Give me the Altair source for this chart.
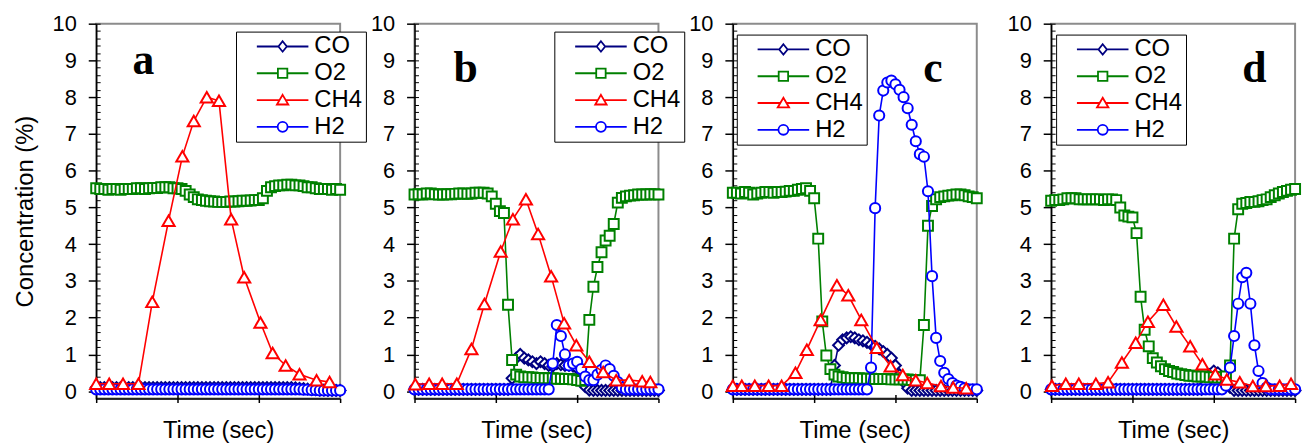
import altair as alt
import pandas as pd

FONT = "Liberation Sans"
SERIES = ["CO", "O2", "CH4", "H2"]
SERIES_LBL = ["CO ", "O2 ", "CH4 ", "H2 "]
COLORS = ["#000080", "#008000", "#FF0000", "#0000FF"]
SHAPES = ["diamond", "square", "triangle-up", "circle"]
SIZES = [120, 100, 150, 105]
# legend samples: a line with the series marker in the middle (unit = half the symbol size)
LEGEND_SYMBOLS = [
    "M-5.2,0L-0.85,0M0.85,0L5.2,0M0,-1.05L0.85,0L0,1.05L-0.85,0Z",
    "M-5.2,0L-0.95,0M0.95,0L5.2,0M-0.95,-0.95L0.95,-0.95L0.95,0.95L-0.95,0.95Z",
    "M-5.2,0L-0.62,0M0.62,0L5.2,0M0,-1.05L1.15,0.9L-1.15,0.9Z",
    "M-5.2,0L-1,0M1,0L5.2,0M-1,0A1,1,0,1,1,1,0A1,1,0,1,1,-1,0Z",
]
DRAW_ORDER = ["CO", "O2", "H2", "CH4"]

T_DENSE = list(range(0, 301, 5))

# ---------------- panel a ----------------
co_a = [0.10, 0.10, 0.10, 0.10, 0.10, 0.10, 0.10, 0.10, 0.10, 0.10,
        0.10, 0.10, 0.10, 0.10, 0.10, 0.10, 0.10, 0.10, 0.10, 0.10,
        0.10, 0.10, 0.10, 0.10, 0.10, 0.10, 0.10, 0.10, 0.10, 0.10,
        0.10, 0.10, 0.10, 0.10, 0.10, 0.10, 0.10, 0.10, 0.10, 0.10,
        0.10, 0.10, 0.10, 0.10, 0.10, 0.10, 0.10, 0.10, 0.10, 0.09,
        0.08, 0.07, 0.06, 0.05, 0.04, 0.03, 0.03, 0.02, 0.02, 0.02,
        0.02]
o2_a = [5.52, 5.50, 5.50, 5.48, 5.50, 5.50, 5.48, 5.50, 5.50, 5.50,
        5.52, 5.52, 5.50, 5.52, 5.53, 5.53, 5.55, 5.55, 5.55, 5.52,
        5.52, 5.50, 5.45, 5.35, 5.28, 5.22, 5.20, 5.18, 5.17, 5.16,
        5.15, 5.15, 5.15, 5.16, 5.16, 5.17, 5.18, 5.18, 5.19, 5.20,
        5.20, 5.25, 5.45, 5.55, 5.58, 5.60, 5.60, 5.62, 5.62, 5.60,
        5.60, 5.58, 5.55, 5.55, 5.52, 5.50, 5.50, 5.50, 5.48, 5.50,
        5.48]
h2_a = [0.05, 0.05, 0.05, 0.05, 0.05, 0.05, 0.05, 0.05, 0.05, 0.05,
        0.05, 0.05, 0.05, 0.05, 0.05, 0.05, 0.05, 0.05, 0.05, 0.05,
        0.05, 0.05, 0.05, 0.05, 0.05, 0.05, 0.05, 0.05, 0.05, 0.05,
        0.05, 0.05, 0.05, 0.05, 0.05, 0.05, 0.05, 0.05, 0.05, 0.05,
        0.05, 0.05, 0.05, 0.05, 0.05, 0.05, 0.05, 0.05, 0.05, 0.05,
        0.05, 0.04, 0.04, 0.03, 0.03, 0.02, 0.02, 0.02, 0.02, 0.02,
        0.02]
ch4_t_a = [0, 16, 33, 52, 69, 89, 106, 120, 136, 151, 166, 182, 202, 217, 233, 250, 271, 287]
ch4_v_a = [0.2, 0.2, 0.2, 0.2, 2.43, 4.64, 6.39, 7.35, 8.0, 7.9, 4.68, 3.1, 1.87, 1.04, 0.7, 0.46, 0.3, 0.25]

# ---------------- panel b ----------------
co_b = [0.05, 0.05, 0.05, 0.05, 0.05, 0.05, 0.05, 0.05, 0.05, 0.05,
        0.05, 0.05, 0.05, 0.05, 0.05, 0.05, 0.05, 0.05, 0.05, 0.05,
        0.05, 0.05, 0.05, 0.05, 0.35, 0.90, 1.00, 0.90, 0.85, 0.80,
        0.75, 0.80, 0.75, 0.70, 0.68, 0.75, 0.72, 0.70, 0.70, 0.68,
        0.62, 0.45, 0.12, 0.03, 0.02, 0.02, 0.02, 0.02, 0.02, 0.02,
        0.02, 0.02, 0.02, 0.02, 0.02, 0.02, 0.02, 0.02, 0.02, 0.02,
        0.02]
o2_b = [5.35, 5.36, 5.35, 5.38, 5.38, 5.36, 5.35, 5.35, 5.36, 5.36,
        5.37, 5.38, 5.38, 5.37, 5.38, 5.40, 5.40, 5.40, 5.38, 5.30,
        5.10, 4.90, 4.85, 2.35, 0.85, 0.45, 0.40, 0.38, 0.38, 0.37,
        0.36, 0.36, 0.35, 0.35, 0.35, 0.34, 0.34, 0.33, 0.33, 0.32,
        0.30, 0.28, 0.30, 1.94, 2.84, 3.38, 3.78, 4.10, 4.23, 4.55,
        5.13, 5.26, 5.30, 5.32, 5.33, 5.35, 5.35, 5.35, 5.36, 5.36,
        5.35]
h2_b = [0.05, 0.05, 0.05, 0.05, 0.05, 0.05, 0.05, 0.05, 0.05, 0.05,
        0.05, 0.05, 0.05, 0.05, 0.05, 0.05, 0.05, 0.05, 0.05, 0.05,
        0.05, 0.05, 0.05, 0.05, 0.05, 0.05, 0.05, 0.05, 0.05, 0.05,
        0.05, 0.05, 0.05, 0.05, 0.75, 1.80, 1.50, 1.00, 0.70, 0.75,
        0.80, 0.60, 0.40, 0.30, 0.30, 0.45, 0.58, 0.70, 0.60, 0.42,
        0.25, 0.10, 0.05, 0.05, 0.05, 0.05, 0.05, 0.05, 0.05, 0.05,
        0.05]
ch4_t_b = [1, 18, 34, 52, 70, 86, 106, 121, 137, 152, 168, 184, 199, 215, 232, 248, 264, 280, 290]
ch4_v_b = [0.19, 0.2, 0.2, 0.2, 1.15, 2.37, 3.8, 4.68, 5.22, 4.28, 3.13, 1.85, 1.25, 0.8, 0.52, 0.3, 0.3, 0.27, 0.25]

# ---------------- panel c ----------------
co_c = [0.05, 0.05, 0.05, 0.05, 0.05, 0.05, 0.05, 0.05, 0.05, 0.05,
        0.05, 0.05, 0.05, 0.05, 0.05, 0.05, 0.05, 0.05, 0.05, 0.05,
        0.05, 0.05, 0.05, 0.05, 0.05, 0.70, 1.25, 1.40, 1.45, 1.48,
        1.45, 1.40, 1.37, 1.33, 1.27, 1.22, 1.15, 1.08, 1.00, 0.90,
        0.70, 0.45, 0.25, 0.08, 0.02, 0.02, 0.02, 0.02, 0.02, 0.02,
        0.02, 0.02, 0.02, 0.02, 0.02, 0.02, 0.02, 0.02, 0.02, 0.02,
        0.02]
o2_c = [5.40, 5.40, 5.38, 5.42, 5.40, 5.35, 5.38, 5.40, 5.42, 5.42,
        5.40, 5.42, 5.42, 5.43, 5.45, 5.45, 5.48, 5.50, 5.52, 5.45,
        5.25, 4.15, 1.90, 0.97, 0.60, 0.45, 0.40, 0.38, 0.36, 0.35,
        0.35, 0.35, 0.34, 0.34, 0.34, 0.33, 0.33, 0.33, 0.33, 0.32,
        0.32, 0.32, 0.32, 0.32, 0.30, 0.30, 0.30, 1.80, 4.50, 5.04,
        5.22, 5.28, 5.30, 5.32, 5.33, 5.35, 5.35, 5.33, 5.30, 5.28,
        5.25]
h2_c = [0.05, 0.05, 0.05, 0.05, 0.05, 0.05, 0.05, 0.05, 0.05, 0.05,
        0.05, 0.05, 0.05, 0.05, 0.05, 0.05, 0.05, 0.05, 0.05, 0.05,
        0.05, 0.05, 0.05, 0.05, 0.05, 0.05, 0.05, 0.05, 0.05, 0.05,
        0.05, 0.05, 0.05, 0.05, 0.64, 4.98, 7.50, 8.18, 8.40, 8.45,
        8.35, 8.20, 8.00, 7.70, 7.25, 6.80, 6.45, 6.38, 5.44, 3.13,
        1.45, 0.82, 0.50, 0.33, 0.22, 0.15, 0.12, 0.08, 0.05, 0.05,
        0.05]
ch4_t_c = [0, 11, 27, 44, 60, 77, 91, 108, 128, 142, 158, 177, 194, 209, 225, 239, 256, 271, 287]
ch4_v_c = [0.15, 0.15, 0.15, 0.15, 0.15, 0.5, 1.13, 1.94, 2.88, 2.61, 1.94, 1.18, 0.68, 0.44, 0.3, 0.22, 0.14, 0.1, 0.08]

# ---------------- panel d ----------------
co_d = [0.05, 0.05, 0.05, 0.05, 0.05, 0.05, 0.05, 0.05, 0.05, 0.05,
        0.05, 0.05, 0.05, 0.05, 0.05, 0.05, 0.05, 0.05, 0.05, 0.05,
        0.05, 0.05, 0.05, 0.05, 0.05, 0.05, 0.05, 0.05, 0.05, 0.05,
        0.05, 0.05, 0.05, 0.05, 0.05, 0.05, 0.05, 0.05, 0.20, 0.45,
        0.55, 0.50, 0.35, 0.20, 0.10, 0.02, 0.02, 0.02, 0.02, 0.02,
        0.02, 0.02, 0.02, 0.02, 0.02, 0.02, 0.02, 0.02, 0.02, 0.02,
        0.02]
o2_d = [5.18, 5.20, 5.20, 5.22, 5.25, 5.25, 5.25, 5.22, 5.22, 5.22,
        5.22, 5.22, 5.22, 5.20, 5.22, 5.22, 5.20, 5.00, 4.78, 4.75,
        4.73, 4.30, 2.57, 1.67, 1.22, 0.90, 0.78, 0.68, 0.60, 0.55,
        0.52, 0.48, 0.46, 0.44, 0.42, 0.42, 0.40, 0.40, 0.40, 0.38,
        0.38, 0.37, 0.37, 0.40, 0.70, 4.15, 4.95, 5.10, 5.12, 5.15,
        5.15, 5.17, 5.20, 5.22, 5.28, 5.33, 5.38, 5.42, 5.45, 5.48,
        5.50]
h2_d = [0.05, 0.05, 0.05, 0.05, 0.05, 0.05, 0.05, 0.05, 0.05, 0.05,
        0.05, 0.05, 0.05, 0.05, 0.05, 0.05, 0.05, 0.05, 0.05, 0.05,
        0.05, 0.05, 0.05, 0.05, 0.05, 0.05, 0.05, 0.05, 0.05, 0.05,
        0.05, 0.05, 0.05, 0.05, 0.05, 0.05, 0.05, 0.05, 0.05, 0.05,
        0.05, 0.05, 0.05, 0.15, 0.64, 1.50, 2.38, 3.10, 3.22, 2.38,
        1.25, 0.55, 0.22, 0.10, 0.05, 0.05, 0.05, 0.05, 0.05, 0.05,
        0.05]
ch4_t_d = [1, 18, 34, 55, 70, 87, 104, 119, 138, 154, 171, 186, 202, 216, 232, 248, 264, 281, 295]
ch4_v_d = [0.15, 0.2, 0.2, 0.2, 0.24, 0.78, 1.32, 1.89, 2.35, 1.76, 1.22, 0.73, 0.46, 0.32, 0.24, 0.14, 0.14, 0.15, 0.2]

# panel letters (position in data units) and legend placement (px inside plot)
LETTERS = ["a", "b", "c", "d"]
LETTER_T = [58, 63, 246, 250]
LETTER_V = [8.62, 8.41, 8.41, 8.41]
LEGEND_X = [141, 141, 4, 5]
LEGEND_Y = [8, 8, 11, 11]

Y_MAJOR = list(range(0, 11))
Y_MINOR = [round(i * 0.2, 1) for i in range(51)]
X_MAJOR = [0, 100, 200, 300]

PANEL_W = 246
PANEL_H = 378


def panel_df(co, o2, h2, ch4_t, ch4_v):
    rows = []
    for name, vals in (("CO", co), ("O2", o2), ("H2", h2)):
        for t, v in zip(T_DENSE, vals):
            rows.append({"gas": name, "t": t, "v": v})
    for t, v in zip(ch4_t, ch4_v):
        rows.append({"gas": "CH4", "t": t, "v": v})
    df = pd.DataFrame(rows)
    df["gas_lbl"] = df["gas"] + " "
    return df


def make_panel(i, df):
    xs = alt.Scale(domain=[0, 300], nice=False, zero=False)
    ys = alt.Scale(domain=[-0.2, 10], nice=False, zero=False)

    legend = alt.Legend(orient="none", legendX=LEGEND_X[i], legendY=LEGEND_Y[i], title=None,
                        labelFont=FONT, labelFontSize=24, labelColor="black",
                        padding=3, rowPadding=3, symbolSize=100, symbolStrokeWidth=1.8,
                        symbolOpacity=1, symbolFillColor="white",
                        symbolOffset=32, labelOffset=20,
                        strokeColor="black", fillColor="white", zindex=1)

    # invisible layer that carries the main axes and the legend
    axis_layer = alt.Chart(df).mark_point(filled=False, fill="white", opacity=0.001,
                                          clip=True).encode(
        x=alt.X("t:Q", scale=xs, axis=alt.Axis(
            values=X_MAJOR, labels=False, grid=False, tickSize=4, tickWidth=1.5,
            tickColor="black", domainColor="black", domainWidth=1.5,
            title="Time (sec)", titleFont=FONT, titleFontSize=24,
            titleFontWeight="normal", titleColor="black", titlePadding=16)),
        y=alt.Y("v:Q", scale=ys, axis=alt.Axis(
            values=Y_MAJOR, grid=False, tickSize=8, tickWidth=1.5, tickColor="black",
            domainColor="black", domainWidth=1.5, labelFont=FONT, labelFontSize=22,
            labelColor="black", labelPadding=12, labelOverlap=False,
            title="Concentration (%)" if i == 0 else None,
            titleFont=FONT, titleFontSize=24, titleFontWeight="normal",
            titleColor="black", titlePadding=15)),
        color=alt.Color("gas_lbl:N", scale=alt.Scale(domain=SERIES_LBL, range=COLORS), legend=legend),
        shape=alt.Shape("gas_lbl:N", scale=alt.Scale(domain=SERIES_LBL, range=LEGEND_SYMBOLS),
                        legend=legend),
    )
    # inward minor ticks
    minor_layer = alt.Chart(df).mark_point(opacity=0, clip=True).encode(
        x=alt.X("t:Q", scale=xs, axis=alt.Axis(
            orient="bottom", values=[100, 200], labels=False, domain=False, grid=False,
            tickSize=4, tickWidth=1.5, tickColor="black", offset=-4, title=None)),
        y=alt.Y("v:Q", scale=ys, axis=alt.Axis(
            orient="left", values=Y_MINOR, labels=False, domain=False, grid=False,
            tickSize=4, tickWidth=1, tickColor="black", offset=-4, title=None)),
    )

    layers = [axis_layer, minor_layer]
    for g in DRAW_ORDER:
        k = SERIES.index(g)
        sub = df[df["gas"] == g]
        base = alt.Chart(sub).encode(
            x=alt.X("t:Q", scale=xs, axis=None),
            y=alt.Y("v:Q", scale=ys, axis=None),
        )
        layers.append(base.mark_line(strokeWidth=1.6, color=COLORS[k]))
        layers.append(base.mark_point(filled=False, fill="white", opacity=1, strokeWidth=2,
                                      color=COLORS[k], shape=SHAPES[k], size=SIZES[k]))

    lab = pd.DataFrame({"letter": [LETTERS[i]], "t": [LETTER_T[i]], "v": [LETTER_V[i]]})
    layers.append(alt.Chart(lab).mark_text(
        font="Liberation Serif", fontWeight="bold", fontSize=44,
        align="center", baseline="alphabetic", color="black").encode(
        x=alt.X("t:Q", scale=xs, axis=None),
        y=alt.Y("v:Q", scale=ys, axis=None),
        text="letter:N"))

    return alt.layer(*layers).resolve_axis(x="independent", y="independent").properties(
        width=PANEL_W, height=PANEL_H)


dfs = [
    panel_df(co_a, o2_a, h2_a, ch4_t_a, ch4_v_a),
    panel_df(co_b, o2_b, h2_b, ch4_t_b, ch4_v_b),
    panel_df(co_c, o2_c, h2_c, ch4_t_c, ch4_v_c),
    panel_df(co_d, o2_d, h2_d, ch4_t_d, ch4_v_d),
]
panels = [make_panel(i, d) for i, d in enumerate(dfs)]

chart = alt.hconcat(*panels, spacing=75, bounds="flush").resolve_scale(
    color="independent", shape="independent"
).resolve_legend(
    color="independent", shape="independent"
).configure_view(
    stroke="#8c8c8c", strokeWidth=2
).properties(
    padding={"left": 12, "top": 10, "right": 0, "bottom": 0}, background="white"
)

chart.save("out.html", embed_options={"renderer": "svg", "actions": False})
